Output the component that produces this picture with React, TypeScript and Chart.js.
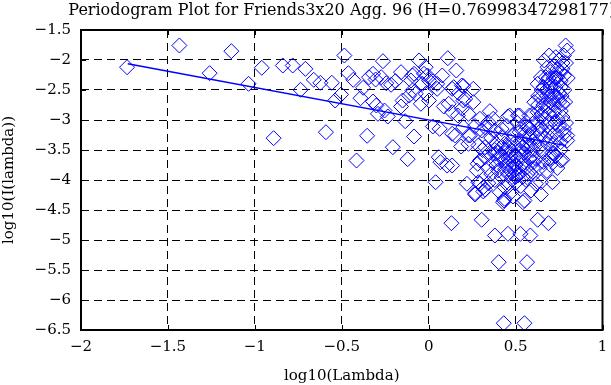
import React, { useEffect, useRef } from 'react';
import { Chart, registerables } from 'chart.js';

Chart.register(...registerables);

const TITLE = 'Periodogram Plot for Friends3x20 Agg. 96 (H=0.76998347298177)';
const X_LABEL = 'log10(Lambda)';
const Y_LABEL = 'log10(I(lambda))';

const xTickValues = [-2, -1.5, -1, -0.5, 0, 0.5, 1];
const xTickLabels = ['−2', '−1.5', '−1', '−0.5', '0', '0.5', '1'];
const yTickValues = [-6.5, -6, -5.5, -5, -4.5, -4, -3.5, -3, -2.5, -2, -1.5];
const yTickLabels = ['−6.5', '−6', '−5.5', '−5', '−4.5', '−4', '−3.5', '−3', '−2.5', '−2', '−1.5'];

// low frequencies: log10(lambda) < -0.1
const lowFreqPoints: [number, number][] = [
  [-1.735, -2.12], [-1.434, -1.758], [-1.26, -2.22], [-1.135, -1.853], [-1.036, -2.397],
  [-0.96, -2.13], [-0.892, -3.303], [-0.839, -2.092], [-0.782, -2.092], [-0.737, -2.497],
  [-0.709, -2.147], [-0.661, -2.33], [-0.623, -2.38], [-0.591, -3.203], [-0.557, -2.38],
  [-0.538, -2.675], [-0.504, -2.575], [-0.485, -1.925], [-0.462, -2.22], [-0.434, -2.33],
  [-0.415, -3.675], [-0.392, -2.637], [-0.377, -2.463], [-0.354, -3.263], [-0.343, -2.287],
  [-0.32, -2.692], [-0.32, -2.23], [-0.305, -2.325], [-0.301, -2.758], [-0.292, -2.897],
  [-0.273, -2.287], [-0.263, -2.02], [-0.254, -2.842], [-0.244, -2.387], [-0.235, -2.942],
  [-0.216, -2.413], [-0.206, -3.453], [-0.191, -2.353], [-0.159, -2.203], [-0.159, -2.775],
  [-0.15, -2.675], [-0.135, -3.02], [-0.121, -3.653], [-0.112, -2.592], [-0.102, -2.342],
];

// middle frequencies: -0.1 .. 0.3
const midFreqPoints: [number, number][] = [
  [-0.093, -2.508], [-0.093, -2.258], [-0.084, -3.275], [-0.084, -2.23], [-0.074, -2.563],
  [-0.055, -2.008], [-0.045, -2.73], [-0.036, -2.397], [-0.027, -2.23], [-0.017, -2.12],
  [-0.017, -2.563], [-0.007, -2.258], [0.002, -2.342], [0.002, -2.675], [0.024, -2.358],
  [0.024, -3.108], [0.04, -4.037], [0.049, -2.48], [0.049, -2.397], [0.058, -3.62],
  [0.063, -3.147], [0.068, -3.703], [0.078, -2.258], [0.087, -2.775], [0.106, -3.758],
  [0.11, -1.97], [0.115, -2.73], [0.131, -4.72], [0.135, -2.48], [0.135, -2.87],
  [0.135, -3.23], [0.135, -3.758], [0.144, -2.453], [0.153, -3.258], [0.159, -2.175],
  [0.168, -2.925], [0.172, -2.553], [0.187, -3.442], [0.191, -2.813], [0.191, -2.425],
  [0.2, -2.437], [0.2, -2.675], [0.2, -3.12], [0.21, -2.647], [0.22, -4.063],
  [0.229, -2.897], [0.229, -3.258], [0.229, -3.397], [0.239, -3.258], [0.257, -2.48],
  [0.257, -2.703], [0.267, -3.1], [0.277, -3.842], [0.295, -2.98], [0.295, -3.675],
];

// dense core: 0.26 .. 0.6
const coreFreqPoints: [number, number][] = [
  [0.267, -4.242], [0.267, -4.22], [0.282, -3.73], [0.286, -3.425], [0.286, -4.037],
  [0.295, -4.063], [0.305, -3.175], [0.31, -3.5], [0.314, -4.12], [0.314, -4.19],
  [0.324, -3.12], [0.324, -3.453], [0.324, -3.62], [0.324, -4.163], [0.33, -3.3],
  [0.34, -3.8], [0.343, -3.037], [0.343, -4.053], [0.352, -2.853], [0.352, -3.12],
  [0.35, -3.55], [0.36, -3.3], [0.36, -3.9], [0.371, -2.98], [0.371, -3.703],
  [0.38, -4.0], [0.38, -3.5], [0.381, -3.175], [0.381, -3.563], [0.39, -3.4],
  [0.39, -3.75], [0.4, -3.537], [0.4, -3.65], [0.4, -3.842], [0.409, -4.203],
  [0.41, -3.6], [0.419, -3.287], [0.42, -3.15], [0.42, -3.45], [0.42, -3.95],
  [0.428, -4.37], [0.434, -4.342], [0.437, -3.397], [0.437, -3.675], [0.437, -4.12],
  [0.437, -4.313], [0.44, -3.55], [0.44, -3.82], [0.447, -3.758], [0.45, -3.5],
  [0.45, -3.1], [0.456, -2.942], [0.456, -3.897], [0.46, -3.45], [0.46, -3.65],
  [0.46, -4.05], [0.466, -2.925], [0.47, -3.35], [0.47, -3.6], [0.475, -3.508],
  [0.475, -3.753], [0.475, -4.203], [0.48, -3.8], [0.48, -3.95], [0.485, -4.275],
  [0.49, -3.25], [0.49, -3.4], [0.49, -3.7], [0.494, -3.842], [0.5, -3.6],
  [0.5, -3.75], [0.5, -3.95], [0.5, -4.05], [0.51, -3.05], [0.51, -3.65],
  [0.513, -2.925], [0.513, -3.925], [0.52, -3.5], [0.52, -3.8], [0.52, -3.9],
  [0.523, -2.925], [0.523, -3.203], [0.53, -3.15], [0.53, -3.35], [0.53, -3.6],
  [0.53, -4.1], [0.54, -3.45], [0.54, -3.95], [0.542, -3.73], [0.542, -4.37],
  [0.55, -3.25], [0.55, -3.55], [0.55, -3.7], [0.551, -4.342], [0.56, -3.1],
  [0.56, -3.4], [0.56, -3.8], [0.56, -4.0], [0.57, -3.12], [0.57, -3.45],
  [0.57, -3.9], [0.58, -2.925], [0.58, -3.15], [0.58, -3.3], [0.58, -3.65],
  [0.589, -3.425], [0.589, -3.897], [0.589, -4.175], [0.59, -3.6], [0.598, -3.063],
  [0.6, -2.9], [0.6, -3.8],
];

// high frequencies: rising arm 0.6 .. 0.8
const highFreqPoints: [number, number][] = [
  [0.6, -3.2], [0.6, -3.5], [0.605, -3.7], [0.608, -2.703], [0.61, -3.4],
  [0.617, -3.647], [0.617, -4.063], [0.62, -3.0], [0.62, -3.3], [0.627, -2.397],
  [0.627, -2.87], [0.63, -2.6], [0.63, -2.75], [0.63, -3.15], [0.64, -3.45],
  [0.64, -3.8], [0.646, -2.287], [0.646, -2.62], [0.646, -3.12], [0.646, -3.23],
  [0.646, -4.037], [0.646, -4.242], [0.65, -2.5], [0.65, -2.9], [0.66, -2.45],
  [0.66, -2.75], [0.66, -3.55], [0.66, -3.7], [0.665, -2.008], [0.665, -2.98],
  [0.67, -2.85], [0.67, -3.3], [0.674, -2.287], [0.68, -2.35], [0.68, -2.6],
  [0.68, -3.1], [0.68, -3.85], [0.684, -2.12], [0.684, -2.537], [0.684, -2.787],
  [0.684, -3.397], [0.69, -2.3], [0.69, -2.9], [0.693, -1.925], [0.693, -3.203],
  [0.693, -3.647], [0.7, -2.2], [0.7, -2.45], [0.7, -2.7], [0.7, -3.05],
  [0.7, -3.3], [0.7, -3.75], [0.703, -2.397], [0.703, -3.63], [0.71, -2.55],
  [0.71, -2.65], [0.71, -3.55], [0.712, -4.037], [0.72, -2.1], [0.72, -2.3],
  [0.72, -2.6], [0.72, -2.75], [0.72, -3.4], [0.722, -2.87], [0.722, -3.563],
  [0.73, -2.3], [0.73, -2.45], [0.73, -3.05], [0.73, -3.6], [0.731, -1.953],
  [0.74, -2.15], [0.74, -3.25], [0.74, -3.8], [0.741, -2.287], [0.741, -2.62],
  [0.741, -2.98], [0.75, -2.0], [0.75, -2.55], [0.75, -2.7], [0.75, -3.1],
  [0.759, -2.453], [0.759, -3.37], [0.759, -3.675], [0.76, -2.2], [0.76, -2.35],
  [0.76, -2.85], [0.76, -3.5], [0.765, -2.6], [0.769, -2.147], [0.769, -2.73],
  [0.769, -3.663], [0.77, -2.05], [0.77, -2.95], [0.778, -1.925], [0.778, -2.258],
  [0.778, -3.147], [0.778, -3.23], [0.78, -2.5], [0.785, -2.7], [0.788, -1.758],
  [0.79, -2.05], [0.79, -3.05], [0.797, -1.842], [0.797, -3.258], [0.797, -3.342],
  [0.8, -2.3],
];

// isolated low values
const lowOutlierPoints: [number, number][] = [
  [0.305, -4.663], [0.381, -4.925], [0.456, -4.897], [0.528, -4.897], [0.585, -4.925],
  [0.627, -4.663], [0.689, -4.72], [0.403, -5.37], [0.566, -5.37], [0.432, -6.387],
  [0.551, -6.387],
];

// least-squares fit line end points
const fitLine: [number, number][] = [[-1.731, -2.063], [0.79, -3.427]];

const FONT_FAMILY = '"DejaVu Serif", "Liberation Serif", serif';
const BLUE = '#0000ff';

const framePlugin = {
  id: 'matlabFrame',
  afterDraw(chart: any) {
    const { ctx, chartArea: a, scales } = chart;
    ctx.save();
    ctx.strokeStyle = '#000';
    ctx.lineWidth = 1;
    ctx.setLineDash([]);
    ctx.beginPath();
    xTickValues.forEach((v) => {
      const p = Math.round(scales.x.getPixelForValue(v)) + 0.5;
      ctx.moveTo(p, a.bottom);
      ctx.lineTo(p, a.bottom - 5);
      ctx.moveTo(p, a.top);
      ctx.lineTo(p, a.top + 5);
    });
    yTickValues.forEach((v) => {
      const p = Math.round(scales.y.getPixelForValue(v)) + 0.5;
      ctx.moveTo(a.left, p);
      ctx.lineTo(a.left + 5, p);
      ctx.moveTo(a.right, p);
      ctx.lineTo(a.right - 5, p);
    });
    ctx.stroke();
    ctx.lineWidth = 2;
    ctx.strokeRect(a.left, a.top, a.right - a.left, a.bottom - a.top);
    ctx.fillStyle = '#000';
    ctx.font = `16px ${FONT_FAMILY}`;
    ctx.textAlign = 'center';
    ctx.textBaseline = 'alphabetic';
    ctx.fillText(TITLE, (a.left + a.right) / 2, 15);
    ctx.restore();
  },
};

export default function App() {
  const canvasRef = useRef<HTMLCanvasElement | null>(null);

  useEffect(() => {
    const canvas = canvasRef.current;
    if (!canvas) return;
    const points = [
      ...lowFreqPoints,
      ...midFreqPoints,
      ...coreFreqPoints,
      ...highFreqPoints,
      ...lowOutlierPoints,
    ].map(([x, y]) => ({ x, y }));

    const tickFont = { family: FONT_FAMILY, size: 15 };

    const chart = new Chart(canvas, {
      type: 'scatter',
      data: {
        datasets: [
          {
            label: 'fit',
            data: fitLine.map(([x, y]) => ({ x, y })),
            showLine: true,
            borderColor: BLUE,
            borderWidth: 1.5,
            pointRadius: 0,
            fill: false,
          },
          {
            label: 'periodogram',
            data: points,
            showLine: false,
            pointStyle: 'rectRot',
            pointRadius: 7.5,
            pointHoverRadius: 7.5,
            borderColor: BLUE,
            backgroundColor: 'rgba(0,0,0,0)',
            borderWidth: 1,
          },
        ],
      },
      options: {
        animation: false,
        responsive: false,
        devicePixelRatio: 1,
        events: [],
        layout: { padding: { top: 30, right: 2, left: 0, bottom: 0 } },
        plugins: {
          legend: { display: false },
          tooltip: { enabled: false },
          title: { display: false },
        },
        scales: {
          x: {
            type: 'linear',
            min: -2,
            max: 1,
            afterBuildTicks: (s: any) => {
              s.ticks = xTickValues.map((value) => ({ value }));
            },
            afterFit: (s: any) => {
              s.height = 55;
              s.paddingLeft = 0;
              s.paddingRight = 0;
            },
            grid: { color: '#000', lineWidth: 1, drawTicks: false },
            border: { display: false, dash: [8, 5] },
            ticks: {
              font: tickFont,
              color: '#000',
              padding: 8,
              maxRotation: 0,
              autoSkip: false,
              callback: (v: any) => xTickLabels[xTickValues.indexOf(Number(v))] ?? '',
            },
            title: {
              display: true,
              text: X_LABEL,
              font: tickFont,
              color: '#000',
              padding: 0,
            },
          },
          y: {
            type: 'linear',
            min: -6.5,
            max: -1.5,
            afterBuildTicks: (s: any) => {
              s.ticks = yTickValues.map((value) => ({ value }));
            },
            afterFit: (s: any) => {
              s.width = 81;
              s.paddingTop = 0;
              s.paddingBottom = 0;
            },
            grid: { color: '#000', lineWidth: 1, drawTicks: false },
            border: { display: false, dash: [8, 5] },
            ticks: {
              font: tickFont,
              color: '#000',
              padding: 10,
              autoSkip: false,
              callback: (v: any) => yTickLabels[yTickValues.indexOf(Number(v))] ?? '',
            },
            title: {
              display: true,
              text: Y_LABEL,
              font: tickFont,
              color: '#000',
              padding: 0,
            },
          },
        },
      },
      plugins: [framePlugin],
    } as any);

    return () => chart.destroy();
  }, []);

  return (
    <div style={{ position: 'absolute', left: 0, top: 0, width: 611, height: 385, background: '#fff' }}>
      <canvas ref={canvasRef} width={611} height={385} style={{ display: 'block' }} />
    </div>
  );
}
